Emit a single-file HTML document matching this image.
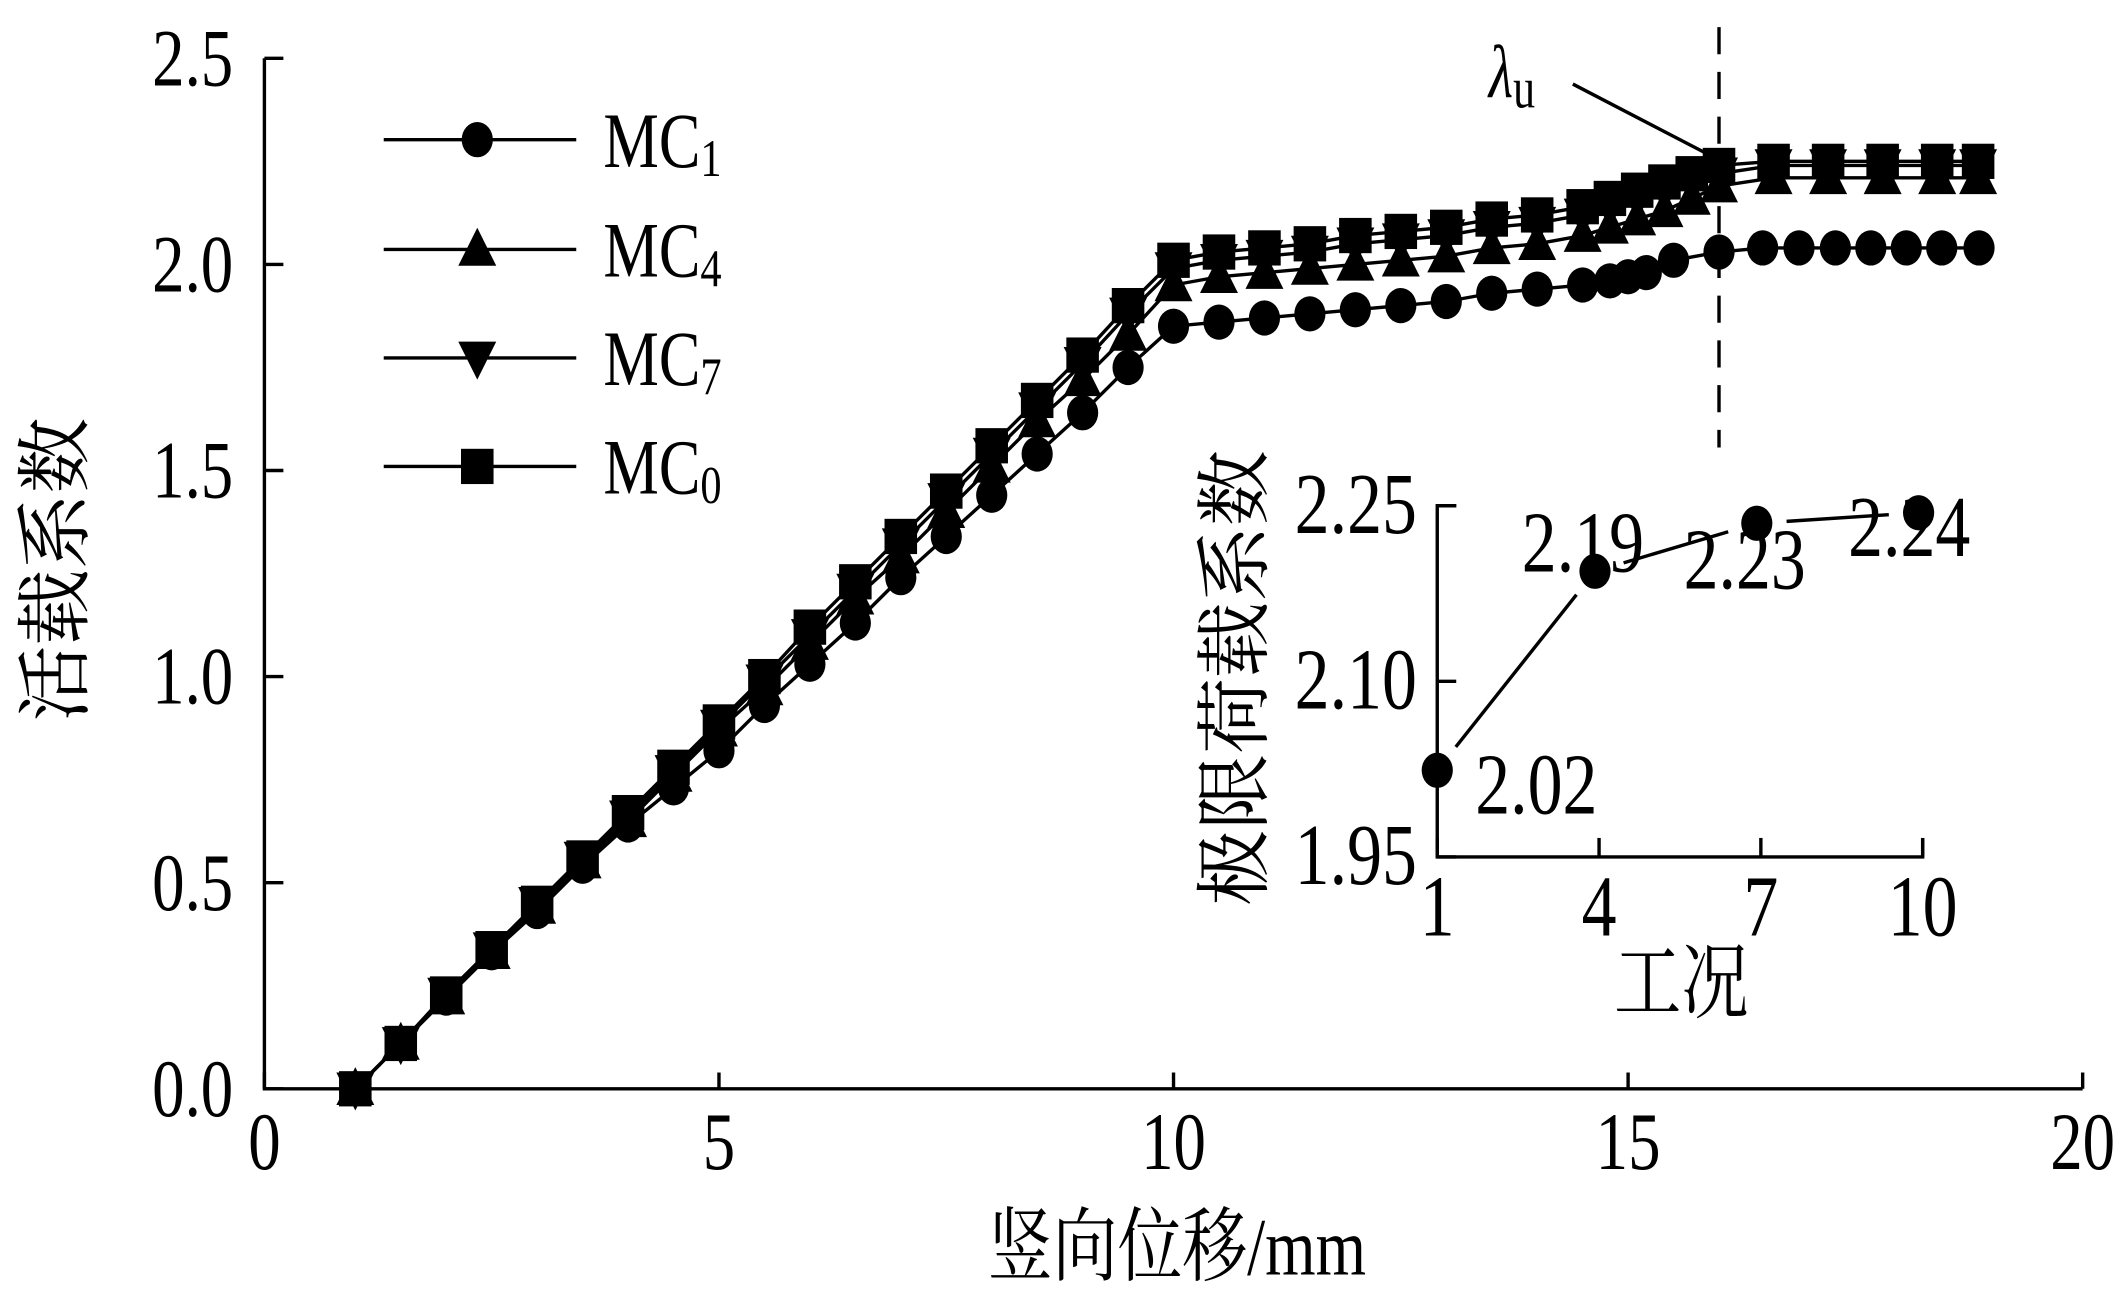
<!DOCTYPE html>
<html><head><meta charset="utf-8"><style>
html,body{margin:0;padding:0;background:#fff;}
svg{display:block;}
text{font-family:"Liberation Serif","Noto Serif CJK SC",serif;fill:#000;}
</style></head><body>
<svg id="chart" width="2126" height="1299" viewBox="0 0 2126 1299" xmlns="http://www.w3.org/2000/svg">
<g id="root" transform="scale(1.3559)"></g>
</svg>
<script>
// main chart data
const xRise = [1,1.5,2,2.5,3,3.5,4,4.5,5,5.5,6,6.5,7,7.5,8,8.5,9,9.5,10];
const mc1Rise = [0,0.11,0.22,0.33,0.43,0.54,0.64,0.73,0.82,0.93,1.03,1.13,1.24,1.34,1.44,1.54,1.64,1.75,1.85];
const mc0Rise = [0,0.11,0.23,0.34,0.45,0.56,0.67,0.78,0.89,1.0,1.12,1.23,1.34,1.45,1.56,1.67,1.78,1.90,2.01];
const mc4Rise = [0,0.11,0.22,0.33,0.44,0.55,0.65,0.76,0.87,0.97,1.08,1.19,1.29,1.40,1.51,1.62,1.72,1.83,1.95];
const mc7Rise = [0,0.11,0.23,0.34,0.45,0.56,0.66,0.77,0.88,0.99,1.10,1.21,1.32,1.43,1.54,1.65,1.76,1.88,1.99];
const xPlat = [10.5,11,11.5,12,12.5,13,13.5,14,14.5,14.8,15.1,15.4,15.7,16,16.6,17.2,17.8,18.4,18.85];
const mc0Plat = [2.03,2.04,2.05,2.07,2.08,2.09,2.11,2.12,2.14,2.16,2.18,2.20,2.22,2.24,2.25,2.25,2.25,2.25,2.25];
const mc7Plat = [2.01,2.02,2.03,2.05,2.06,2.07,2.09,2.10,2.12,2.14,2.16,2.18,2.20,2.22,2.24,2.24,2.24,2.24,2.24];
const mc4Plat = [1.97,1.98,1.99,2.00,2.01,2.02,2.04,2.05,2.07,2.09,2.11,2.13,2.16,2.19,2.21,2.21,2.21,2.21,2.21];
const xMc1Plat = [10.5,11,11.5,12,12.5,13,13.5,14,14.5,14.8,15,15.2,15.5,16,16.48,16.88,17.28,17.67,18.06,18.45,18.86];
const mc1Plat = [1.86,1.87,1.88,1.89,1.90,1.91,1.93,1.94,1.95,1.96,1.97,1.98,2.01,2.03,2.04,2.04,2.04,2.04,2.04,2.04,2.04];
const xTicks = [0,5,10,15,20];
const yTicks = [0,0.5,1.0,1.5,2.0,2.5];
const yTickLabels = ["0.0","0.5","1.0","1.5","2.0","2.5"];
// inset data
const caseX = [1,4,7,10];
const caseVals = [2.02,2.19,2.23,2.24];
const casePlotVals = [2.024,2.194,2.235,2.244];
const insetYTicks = [1.95,2.10,2.25];
const insetYLabels = ["1.95","2.10","2.25"];

const NS="http://www.w3.org/2000/svg";
const root=document.getElementById('root');
function mk(tag,attrs,parent){const e=document.createElementNS(NS,tag);for(const k in attrs)e.setAttribute(k,attrs[k]);(parent||root).appendChild(e);return e;}
const X=v=>195+(v/20)*(1536-195);
const Y=v=>803-(v/2.5)*(803-43);
const IX=v=>1060+(v-1)/9*(1418-1060);
const IY=v=>632-(v-1.95)/0.3*(632-373);
const FS=52;
function txt(x,y,s,anchor,size,parent){
  const t=mk('text',{x:0,y:0,'text-anchor':anchor||'start','font-size':size||FS,transform:`translate(${x},${y}) scale(0.92,1.15)`},parent);
  t.textContent=s;return t;
}

// axes
let ax=mk('path',{d:`M${X(0)},${Y(2.5)} V${Y(0)} H${X(20)}`,fill:'none',stroke:'#000','stroke-width':2.5});


xTicks.forEach(t=>{
  let l=mk('line',{x1:X(t),x2:X(t),y1:Y(0),y2:Y(0)-12,stroke:'#000','stroke-width':2.5});
  
  
  let tx=txt(X(t),862,String(t),'middle');
  
  
});
yTicks.forEach((t,i)=>{
  let l=mk('line',{x1:X(0),x2:X(0)+14,y1:Y(t),y2:Y(t),stroke:'#000','stroke-width':2.5});
  
  
  let tx=txt(172,Y(t)+20,yTickLabels[i],'end');
  
  
});
let xl=txt(868,940,'竖向位移/mm','middle',52);


let yl=mk('text',{x:0,y:0,'text-anchor':'middle','font-size':56,transform:'translate(60,420) rotate(-90)'});yl.textContent='活载系数';



// markers
function marker(type,cx,cy,g){
  if(type==='circle') return mk('ellipse',{cx,cy,rx:11.5,ry:13,fill:'#000'},g);
  if(type==='square') return mk('rect',{x:cx-12,y:cy-13,width:24,height:26,fill:'#000'},g);
  if(type==='up') return mk('polygon',{points:`${cx},${cy-16} ${cx+14},${cy+12} ${cx-14},${cy+12}`,fill:'#000'},g);
  return mk('polygon',{points:`${cx},${cy+16} ${cx+14},${cy-12} ${cx-14},${cy-12}`,fill:'#000'},g);
}
function series(name,xs,ys,type){
  const g=mk('g',{});
  
  
  mk('polyline',{points:xs.map((x,i)=>X(x)+','+Y(ys[i])).join(' '),fill:'none',stroke:'#000','stroke-width':2.5},g);
  xs.forEach((x,i)=>{const m=marker(type,X(x),Y(ys[i]),g);
    
    });
}
series('series-mc1',xRise.concat(xMc1Plat),mc1Rise.concat(mc1Plat),'circle');
series('series-mc4',xRise.concat(xPlat),mc4Rise.concat(mc4Plat),'up');
series('series-mc7',xRise.concat(xPlat),mc7Rise.concat(mc7Plat),'down');
series('series-mc0',xRise.concat(xPlat),mc0Rise.concat(mc0Plat),'square');

// legend
const legNames=['MC','MC','MC','MC'],legSubs=['1','4','7','0'],legTypes=['circle','up','down','square'],legY=[103,184,264,344];
legTypes.forEach((t,i)=>{
  const g=mk('g',{});
  
  
  mk('line',{x1:283,x2:425,y1:legY[i],y2:legY[i],stroke:'#000','stroke-width':2.5},g);
  marker(t,352,legY[i],g);
  const tx=mk('text',{x:0,y:0,'font-size':50,transform:`translate(445,${legY[i]+20}) scale(0.92,1.15)`},g);
  tx.innerHTML=legNames[i]+'<tspan font-size="34" dy="6">'+legSubs[i]+'</tspan>';
});

// dashed line and annotation
let dl=mk('line',{x1:X(16),x2:X(16),y1:20,y2:330,stroke:'#000','stroke-width':2.5,'stroke-dasharray':'20,13'});


let lu=mk('text',{x:0,y:0,'font-size':46,'font-style':'italic',transform:'translate(1098,72) scale(0.9,1.2)'});lu.innerHTML='λ<tspan font-style="normal" font-size="36" dy="6">u</tspan>';


let ll=mk('line',{x1:1160,y1:62,x2:1262,y2:115,stroke:'#000','stroke-width':2.5});



// inset
let iax=mk('path',{d:`M${IX(1)+14},${IY(2.25)} H${IX(1)} V${IY(1.95)} H${IX(10)} V${IY(1.95)-14}`,fill:'none',stroke:'#000','stroke-width':2.5});


insetYTicks.forEach((t,i)=>{
  let l=mk('line',{x1:IX(1),x2:IX(1)+14,y1:IY(t),y2:IY(t),stroke:'#000','stroke-width':2.5});
  
  
  let tx=txt(1045,IY(t)+20,insetYLabels[i],'end',56);
  
  
});
caseX.forEach(c=>{
  let l=mk('line',{x1:IX(c),x2:IX(c),y1:IY(1.95),y2:IY(1.95)-14,stroke:'#000','stroke-width':2.5});
  
  
  let tx=txt(IX(c),690,String(c),'middle',56);
  
  
});
let ixl=txt(1240,746,'工况','middle',54);


let iyl=mk('text',{x:0,y:0,'text-anchor':'middle','font-size':56,transform:'translate(930,500) rotate(-90)'});iyl.textContent='极限荷载系数';


const labOff=[[28,32],[-54,0],[-54,48],[-52,32]];
for(let i=0;i<caseX.length;i++){
  const cx=IX(caseX[i])-(i>0?3:0),cy=IY(casePlotVals[i]);
  if(i<caseX.length-1){
    const nx=IX(caseX[i+1])-3,ny=IY(casePlotVals[i+1]);
    const dx=nx-cx,dy=ny-cy,L=Math.hypot(dx,dy),g=22;
    let s=mk('line',{x1:cx+dx/L*g,y1:cy+dy/L*g,x2:nx-dx/L*g,y2:ny-dy/L*g,stroke:'#000','stroke-width':2.5});
    
    
  }
  let c=mk('ellipse',{cx,cy,rx:11.5,ry:13,fill:'#000'});
  
  
  let t=txt(cx+labOff[i][0],cy+labOff[i][1],caseVals[i].toFixed(2),'start',56);
  
  
}
</script>
</body></html>
